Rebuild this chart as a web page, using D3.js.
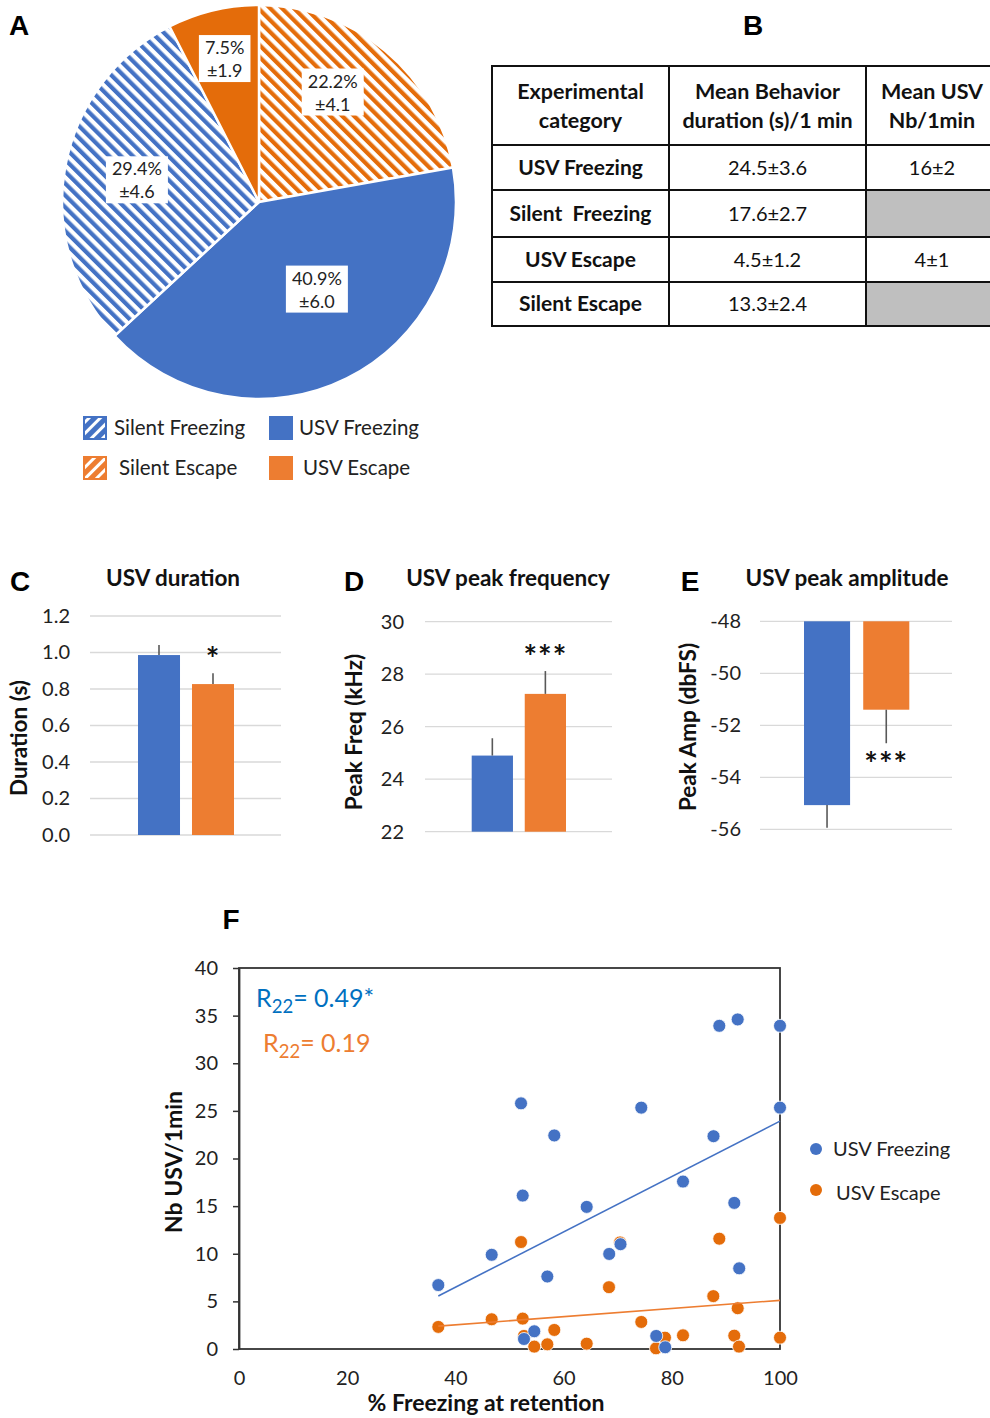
<!DOCTYPE html>
<html><head><meta charset="utf-8">
<script src="https://cdn.jsdelivr.net/npm/d3@7"></script>
<style>
body{margin:0;background:#fff}
svg{display:block;font-family:Lato,'Open Sans',sans-serif}
</style>
</head><body>
<svg id="c" width="990" height="1418"></svg>
<script>
// ---------- DATA ----------
const pieCategories = ["Silent Escape", "USV Freezing", "Silent Freezing", "USV Escape"];
const piePercent = [22.2, 40.9, 29.4, 7.5];
const pieSEM = [4.1, 6.0, 4.6, 1.9];

const legendCategories = ["Silent Freezing", "USV Freezing", "Silent Escape", "USV Escape"];

const tableHeaders = [["Experimental", "category"], ["Mean Behavior", "duration (s)/1 min"], ["Mean USV", "Nb/1min"]];
const tableCategories = ["USV Freezing", "Silent  Freezing", "USV Escape", "Silent Escape"];
const tableDuration = ["24.5±3.6", "17.6±2.7", "4.5±1.2", "13.3±2.4"];
const tableUSV = ["16±2", null, "4±1", null];

const barGroups = ["USV Freezing", "USV Escape"];
const durationMean = [0.986, 0.827];
const durationErr = [0.055, 0.059];
const freqMean = [24.9, 27.25];
const freqErr = [0.66, 0.87];
const ampMean = [-55.07, -51.4];
const ampErr = [0.87, 1.29];
const durationTicks = [0, 0.2, 0.4, 0.6, 0.8, 1.0, 1.2];
const freqTicks = [22, 24, 26, 28, 30];
const ampTicks = [-48, -50, -52, -54, -56];

const freezeX = [36.84, 46.71, 52.13, 52.44, 58.28, 56.99, 64.27, 68.43, 70.52, 74.36, 82.07, 87.71, 88.78, 92.18, 100, 100, 91.55, 92.46, 54.58, 52.68, 77.12, 78.78];
const freezeY = [6.71, 9.89, 25.79, 16.11, 22.42, 7.61, 14.92, 9.98, 11.0, 25.34, 17.58, 22.34, 33.93, 34.6, 33.93, 25.34, 15.34, 8.47, 1.86, 1.05, 1.37, 0.18];
const escapeX = [52.13, 70.43, 68.39, 88.78, 100, 87.67, 92.18, 36.84, 46.71, 52.44, 74.36, 52.68, 58.28, 54.58, 56.99, 64.27, 78.74, 77.08, 82.07, 91.55, 92.42, 100];
const escapeY = [11.23, 11.19, 6.49, 11.58, 13.76, 5.55, 4.28, 2.32, 3.12, 3.19, 2.84, 1.37, 2.0, 0.25, 0.49, 0.56, 1.19, 0.07, 1.44, 1.4, 0.25, 1.19];
const scatterXTicks = [0, 20, 40, 60, 80, 100];
const scatterYTicks = [0, 5, 10, 15, 20, 25, 30, 35, 40];
const rFreeze = "0.49*";
const rEscape = "0.19";

// ---------- STYLE ----------
const BLUE = "#4472C4", ORANGE = "#ED7D31", DORANGE = "#E46C0A", ERR = "#595959", GRID = "#D9D9D9";
const FONT = "Lato,'Open Sans',sans-serif";
const svg = d3.select("#c");
svg.append("rect").attr("width", 990).attr("height", 1418).attr("fill", "#fff");
const defs = svg.append("defs");
function hatch(id, color, rot, period, w) {
  const p = defs.append("pattern").attr("id", id).attr("patternUnits", "userSpaceOnUse")
    .attr("width", period).attr("height", period).attr("patternTransform", `rotate(${rot})`);
  p.append("rect").attr("width", period).attr("height", period).attr("fill", "#fff");
  p.append("rect").attr("width", w).attr("height", period).attr("fill", color);
}
hatch("hB", BLUE, -45, 8.4, 4.2);
hatch("hO", DORANGE, -45, 8.4, 4.2);
hatch("lB", BLUE, 45, 8, 5);
hatch("lO", ORANGE, 45, 8, 5);

function panelLetter(t, x, y) {
  svg.append("text").attr("x", x).attr("y", y).attr("font-size", 28).attr("font-weight", 700)
    .attr("font-family", "Liberation Sans, Arial, sans-serif").attr("text-anchor", "middle").text(t);
}

// ---------- A: PIE ----------
panelLetter("A", 19, 35);
const cx = 259, cy = 202, R = 197;
const pieData = pieCategories.map((c, i) => ({ c, v: piePercent[i], e: pieSEM[i] }));
const pieFill = { "Silent Escape": "url(#hO)", "USV Freezing": BLUE, "Silent Freezing": "url(#hB)", "USV Escape": DORANGE };
const labelR = { "Silent Escape": 132, "USV Freezing": 105, "Silent Freezing": 124, "USV Escape": 147 };
const labelShift = { "Silent Escape": -6, "USV Freezing": -7, "Silent Freezing": 0, "USV Escape": 0 };
const arcs = d3.pie().sort(null).value(d => d.v)(pieData);
const arc = d3.arc().innerRadius(0).outerRadius(R);
const gp = svg.append("g").attr("transform", `translate(${cx},${cy})`);
gp.selectAll("path").data(arcs).join("path").attr("d", arc)
  .attr("fill", d => pieFill[d.data.c]).attr("stroke", "#fff").attr("stroke-width", 2.5);
arcs.forEach(d => {
  const lr = labelR[d.data.c];
  const a = (d.startAngle + d.endAngle) / 2 + labelShift[d.data.c] * Math.PI / 180;
  const lx = lr * Math.sin(a), ly = -lr * Math.cos(a);
  const g = gp.append("g").attr("transform", `translate(${lx},${ly})`);
  const t1 = d.data.v.toFixed(1) + "%", t2 = "±" + d.data.e.toFixed(1);
  const rect = g.append("rect").attr("fill", "#fff");
  const tx = g.append("text").attr("font-size", 18).attr("text-anchor", "middle").attr("fill", "#222");
  tx.append("tspan").attr("x", 0).attr("y", -5).text(t1);
  tx.append("tspan").attr("x", 0).attr("y", 18).text(t2);
  const bb = tx.node().getBBox();
  rect.attr("x", bb.x - 6).attr("y", -24).attr("width", bb.width + 12).attr("height", 47);
});

// legend A
const legPos = [[83, 416], [269, 416], [83, 456], [269, 456]];
const legTextX = [114, 299, 119, 303];
const legFill = { "Silent Freezing": "url(#lB)", "USV Freezing": BLUE, "Silent Escape": "url(#lO)", "USV Escape": ORANGE };
const legStroke = { "Silent Freezing": BLUE, "USV Freezing": BLUE, "Silent Escape": ORANGE, "USV Escape": ORANGE };
legendCategories.forEach((c, i) => {
  svg.append("rect").attr("x", legPos[i][0] + 1).attr("y", legPos[i][1] + 1).attr("width", 22).attr("height", 22)
    .attr("fill", legFill[c]).attr("stroke", legStroke[c]).attr("stroke-width", 2);
  svg.append("text").attr("x", legTextX[i]).attr("y", legPos[i][1] + 19).attr("font-size", 20.5).attr("fill", "#222").text(c);
});

// ---------- B: TABLE ----------
panelLetter("B", 753, 35);
const colX = [492, 669, 866, 998];
const rowY = [66, 145, 190, 237, 282, 326];
const gt = svg.append("g");
tableUSV.forEach((v, i) => {
  if (v === null) gt.append("rect").attr("x", colX[2]).attr("y", rowY[i + 1]).attr("width", colX[3] - colX[2]).attr("height", rowY[i + 2] - rowY[i + 1]).attr("fill", "#BFBFBF");
});
tableHeaders.forEach((h, j) => {
  const mx = (colX[j] + colX[j + 1]) / 2;
  h.forEach((line, k) => gt.append("text").attr("x", mx).attr("y", 99 + k * 29).attr("font-size", 21.5).attr("font-weight", 700)
    .attr("text-anchor", "middle").attr("fill", "#111").text(line));
});
tableCategories.forEach((c, i) => {
  const my = (rowY[i + 1] + rowY[i + 2]) / 2 + 7;
  const cells = [c, tableDuration[i], tableUSV[i]];
  cells.forEach((v, j) => {
    if (v === null) return;
    gt.append("text").attr("x", (colX[j] + colX[j + 1]) / 2).attr("y", my).attr("font-size", j === 0 ? 21 : 20)
      .attr("font-weight", j === 0 ? 700 : 400).attr("text-anchor", "middle").attr("fill", "#111")
      .style("white-space", "pre").text(v);
  });
});
rowY.forEach(y => gt.append("line").attr("x1", colX[0] - 1).attr("x2", colX[3]).attr("y1", y).attr("y2", y).attr("stroke", "#111").attr("stroke-width", 2));
colX.forEach(x => gt.append("line").attr("x1", x).attr("x2", x).attr("y1", rowY[0]).attr("y2", rowY[5]).attr("stroke", "#111").attr("stroke-width", 2));

// ---------- C/D/E: BAR CHARTS ----------
function barChart(o) {
  const g = svg.append("g");
  const y = d3.scaleLinear().domain(o.domain).range(o.yRange);
  const x = d3.scaleBand().domain(barGroups).range(o.xBars).paddingInner(0.222);
  o.ticks.forEach(t => g.append("line").attr("x1", o.gx[0]).attr("x2", o.gx[1]).attr("y1", y(t)).attr("y2", y(t)).attr("stroke", GRID).attr("stroke-width", 1.3));
  const ax = g.append("g").attr("transform", `translate(${o.gx[0]},0)`)
    .call(d3.axisLeft(y).tickValues(o.ticks).tickSize(0).tickPadding(o.pad).tickFormat(o.fmt));
  ax.select(".domain").remove();
  ax.selectAll("text").attr("font-size", 20).attr("fill", "#222").attr("font-family", FONT);
  const base = o.base;
  barGroups.forEach((c, i) => {
    const v = o.mean[i];
    g.append("rect").attr("x", x(c)).attr("width", x.bandwidth())
      .attr("y", Math.min(y(v), y(base))).attr("height", Math.abs(y(v) - y(base)))
      .attr("fill", i === 0 ? BLUE : ORANGE);
    const ev = v + o.dir * o.err[i];
    g.append("line").attr("x1", x(c) + x.bandwidth() / 2).attr("x2", x(c) + x.bandwidth() / 2)
      .attr("y1", y(v)).attr("y2", y(ev)).attr("stroke", ERR).attr("stroke-width", 1.6);
  });
  const oc = barGroups[1];
  g.append("text").attr("x", x(oc) + x.bandwidth() / 2).attr("y", y(o.mean[1] + o.dir * o.err[1]) + o.starDy)
    .attr("text-anchor", "middle").attr("font-size", 32).attr("font-weight", 700).attr("fill", "#111")
    .attr("letter-spacing", 1).text(o.star);
  svg.append("text").attr("x", o.titleX).attr("y", 586).attr("font-size", 22.5).attr("font-weight", 700)
    .attr("text-anchor", "middle").attr("fill", "#111").text(o.title);
  svg.append("text").attr("transform", `translate(${o.ytX},${o.ytY}) rotate(-90)`).attr("font-size", 22.5)
    .attr("font-weight", 700).attr("text-anchor", "middle").attr("fill", "#111").text(o.ytitle);
}
panelLetter("C", 20, 591);
barChart({ domain: [0, 1.2], yRange: [835, 616], xBars: [138, 234], gx: [90, 281], ticks: durationTicks, pad: 20,
  fmt: d3.format(".1f"), mean: durationMean, err: durationErr, dir: 1, base: 0, star: "*", starDy: -2,
  title: "USV duration", titleX: 173, ytitle: "Duration (s)", ytX: 27, ytY: 738 });
panelLetter("D", 354, 591);
barChart({ domain: [22, 30], yRange: [831.7, 621.7], xBars: [471.7, 566], gx: [425, 612], ticks: freqTicks, pad: 21,
  fmt: d3.format("d"), mean: freqMean, err: freqErr, dir: 1, base: 22, star: "***", starDy: -2,
  title: "USV peak frequency", titleX: 508, ytitle: "Peak Freq (kHz)", ytX: 362, ytY: 732 });
panelLetter("E", 690, 591);
barChart({ domain: [-56, -48], yRange: [829.3, 621.3], xBars: [804, 909.3], gx: [760, 952], ticks: ampTicks, pad: 19,
  fmt: d => d3.format("d")(d).replace("−", "-"), mean: ampMean, err: ampErr, dir: -1, base: -48, star: "***", starDy: 33,
  title: "USV peak amplitude", titleX: 847, ytitle: "Peak Amp (dbFS)", ytX: 696, ytY: 727 });

// ---------- F: SCATTER ----------
panelLetter("F", 231, 929);
const sx = d3.scaleLinear().domain([0, 100]).range([239, 780]);
const sy = d3.scaleLinear().domain([0, 40]).range([1349, 968]);
const gs = svg.append("g");
gs.append("rect").attr("x", sx(0)).attr("y", sy(40)).attr("width", sx(100) - sx(0)).attr("height", sy(0) - sy(40))
  .attr("fill", "none").attr("stroke", "#333").attr("stroke-width", 1.8);
const yax = gs.append("g").attr("transform", `translate(${sx(0)},0)`)
  .call(d3.axisLeft(sy).tickValues(scatterYTicks).tickSizeInner(6).tickSizeOuter(0).tickPadding(15));
yax.select(".domain").attr("stroke", "#333").attr("stroke-width", 1.8);
yax.selectAll(".tick line").attr("stroke", "#333").attr("stroke-width", 1.5);
yax.selectAll("text").attr("font-size", 20).attr("fill", "#222").attr("font-family", FONT);
const xax = gs.append("g").attr("transform", `translate(0,${sy(0)})`)
  .call(d3.axisBottom(sx).tickValues(scatterXTicks).tickSize(0).tickPadding(22));
xax.select(".domain").remove();
xax.selectAll("text").attr("font-size", 20).attr("fill", "#222").attr("font-family", FONT);

function regression(xs, ys) {
  const mx = d3.mean(xs), my = d3.mean(ys);
  const b = d3.sum(xs, (x, i) => (x - mx) * (ys[i] - my)) / d3.sum(xs, x => (x - mx) * (x - mx));
  const a = my - b * mx;
  const x0 = d3.min(xs), x1 = d3.max(xs);
  return [[x0, a + b * x0], [x1, a + b * x1]];
}
const escPts = escapeX.map((x, i) => [x, escapeY[i]]);
const frzPts = freezeX.map((x, i) => [x, freezeY[i]]);
gs.selectAll(".pe").data(escPts).join("circle").attr("cx", d => sx(d[0])).attr("cy", d => sy(d[1])).attr("r", 6.5)
  .attr("fill", DORANGE).attr("stroke", "#fff").attr("stroke-width", 0.8);
gs.selectAll(".pf").data(frzPts).join("circle").attr("cx", d => sx(d[0])).attr("cy", d => sy(d[1])).attr("r", 6.5)
  .attr("fill", BLUE).attr("stroke", "#fff").attr("stroke-width", 0.8);
const line = d3.line().x(d => sx(d[0])).y(d => sy(d[1]));
gs.append("path").attr("d", line(regression(escapeX, escapeY))).attr("stroke", ORANGE).attr("stroke-width", 1.6).attr("fill", "none");
gs.append("path").attr("d", line(regression(freezeX, freezeY))).attr("stroke", BLUE).attr("stroke-width", 1.6).attr("fill", "none");

function rText(x, y, color, val) {
  const t = svg.append("text").attr("x", x).attr("y", y).attr("font-size", 25).attr("fill", color);
  t.append("tspan").text("R");
  t.append("tspan").attr("font-size", 18.5).attr("dy", 6).text("22");
  t.append("tspan").attr("dy", -6).text("= " + val);
}
rText(256, 1007, "#0070C0", rFreeze);
rText(263, 1052, ORANGE, rEscape);

svg.append("text").attr("transform", "translate(182,1162) rotate(-90)").attr("font-size", 23).attr("font-weight", 700)
  .attr("text-anchor", "middle").attr("fill", "#111").text("Nb USV/1min");
svg.append("text").attr("x", 486).attr("y", 1411).attr("font-size", 23).attr("font-weight", 700)
  .attr("text-anchor", "middle").attr("fill", "#111").text("% Freezing at retention");

const sLeg = [["USV Freezing", BLUE, 1149, 833], ["USV Escape", DORANGE, 1190, 836]];
sLeg.forEach(([t, c, y, tx]) => {
  svg.append("circle").attr("cx", 816).attr("cy", y).attr("r", 6).attr("fill", c);
  svg.append("text").attr("x", tx).attr("y", y + 7 + (t === "USV Escape" ? 3 : 0)).attr("font-size", 20).attr("fill", "#222").text(t);
});
</script>
</body></html>
